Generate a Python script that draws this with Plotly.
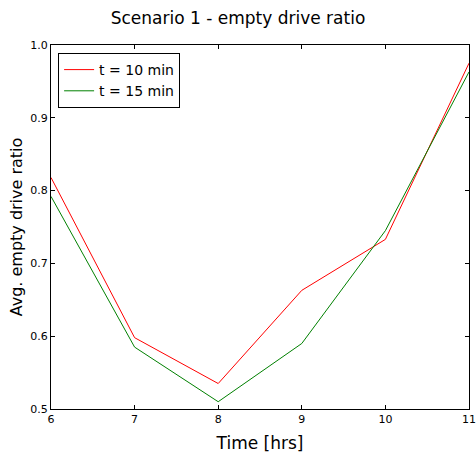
import plotly.graph_objects as go

hours = [6, 7, 8, 9, 10, 11]
ratio_t10 = [0.818, 0.598, 0.535, 0.663, 0.733, 0.975]
ratio_t15 = [0.792, 0.585, 0.510, 0.590, 0.745, 0.963]
x_ticks = [6, 7, 8, 9, 10, 11]
y_ticks = [0.5, 0.6, 0.7, 0.8, 0.9, 1.0]
y_tick_text = ["0.5", "0.6", "0.7", "0.8", "0.9", "1.0"]

fig = go.Figure()
fig.add_trace(go.Scatter(x=hours, y=ratio_t10, mode="lines", name="t = 10 min",
                         line=dict(color="#ff0000", width=1)))
fig.add_trace(go.Scatter(x=hours, y=ratio_t15, mode="lines", name="t = 15 min",
                         line=dict(color="#008000", width=1)))

axis_common = dict(showline=True, linecolor="black", linewidth=1, mirror="allticks",
                   ticks="inside", ticklen=4, tickcolor="black", showgrid=False,
                   zeroline=False, automargin=False, tickfont=dict(size=11, color="black"))

fig.update_layout(
    width=476, height=455,
    margin=dict(l=51, r=7, t=45, b=46),
    paper_bgcolor="white", plot_bgcolor="white",
    font=dict(family="DejaVu Sans", color="black"),
    title=dict(text="Scenario 1 - empty drive ratio", x=0.5, xanchor="center",
               y=0.96, yanchor="middle", font=dict(size=17), automargin=False),
    xaxis=dict(range=[6, 11], tickvals=x_ticks, title=dict(text="Time [hrs]", font=dict(size=17), standoff=11),
               **axis_common),
    yaxis=dict(range=[0.5, 1.0], tickvals=y_ticks, ticktext=y_tick_text,
               title=dict(text="Avg. empty drive ratio", font=dict(size=16), standoff=3),
               **axis_common),
    legend=dict(x=0.017, y=0.978, xanchor="left", yanchor="top", bordercolor="black",
                borderwidth=1, bgcolor="white", font=dict(size=14)),
    showlegend=True,
)

fig.write_html("out.html")
